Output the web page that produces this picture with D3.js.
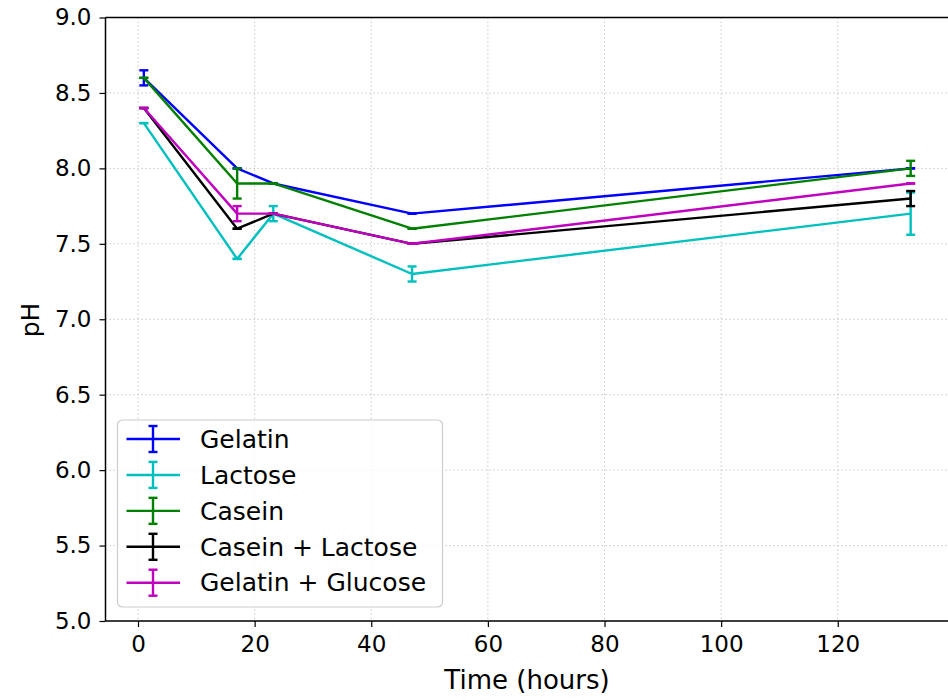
<!DOCTYPE html>
<html>
<head>
<meta charset="utf-8">
<script src="https://cdn.jsdelivr.net/npm/d3@7"></script>
<style>
  html, body { margin: 0; padding: 0; background: #ffffff; }
  svg { display: block; }
  text { font-family: "DejaVu Sans", sans-serif; fill: #000; }
</style>
</head>
<body>
<svg id="chart" width="948" height="700"></svg>
<script>
// ---- Data ----
const times = [1, 17, 23.2, 47, 132.5];
const seriesNames = ["Gelatin", "Lactose", "Casein", "Casein + Lactose", "Gelatin + Glucose"];
const seriesColors = ["#0000ff", "#00bfbf", "#008000", "#000000", "#bf00bf"];
const gelatin = [8.6, 8.0, 7.9, 7.7, 8.0];
const gelatinErr = [0.05, 0, 0, 0, 0];
const lactose = [8.3, 7.4, 7.7, 7.3, 7.7];
const lactoseErr = [0, 0, 0.05, 0.05, 0.14];
const casein = [8.6, 7.9, 7.9, 7.6, 8.0];
const caseinErr = [0, 0.1, 0, 0, 0.05];
const caseinLactose = [8.4, 7.6, 7.7, 7.5, 7.8];
const caseinLactoseErr = [0, 0, 0, 0, 0.05];
const gelatinGlucose = [8.4, 7.7, 7.7, 7.5, 7.9];
const gelatinGlucoseErr = [0, 0.05, 0, 0, 0];
const xTicks = [0, 20, 40, 60, 80, 100, 120];
const yTicks = [5.0, 5.5, 6.0, 6.5, 7.0, 7.5, 8.0, 8.5, 9.0];
const xLabel = "Time (hours)";
const yLabel = "pH";

const seriesValues = [gelatin, lactose, casein, caseinLactose, gelatinGlucose];
const seriesErrs = [gelatinErr, lactoseErr, caseinErr, caseinLactoseErr, gelatinGlucoseErr];

// ---- Layout ----
const plotLeft = 105.5, plotRight = 949, plotTop = 17.5, plotBottom = 621;
const xPad = (d3.max(times) - d3.min(times)) * 0.05;
const x = d3.scaleLinear().domain([d3.min(times) - xPad, d3.max(times) + xPad]).range([plotLeft, plotRight]);
const y = d3.scaleLinear().domain([5, 9]).range([plotBottom, plotTop]);

const svg = d3.select("#chart");
svg.append("rect").attr("width", 948).attr("height", 700).attr("fill", "#fff");

// grid
const grid = svg.append("g");
grid.selectAll("line.gx").data(xTicks).enter().append("line")
  .attr("x1", d => x(d)).attr("x2", d => x(d))
  .attr("y1", plotTop).attr("y2", plotBottom)
  .attr("stroke", "#c8c8c8").attr("stroke-width", 1).attr("stroke-dasharray", "1.5,2.5");
grid.selectAll("line.gy").data(yTicks).enter().append("line")
  .attr("x1", plotLeft).attr("x2", plotRight)
  .attr("y1", d => y(d)).attr("y2", d => y(d))
  .attr("stroke", "#c8c8c8").attr("stroke-width", 1).attr("stroke-dasharray", "1.5,2.5");

// series
const lw = 2.4;
const line = d3.line().x((d, i) => x(times[i])).y(d => y(d));
const capHalf = 4.5;
seriesValues.forEach((vals, si) => {
  const g = svg.append("g");
  const col = seriesColors[si];
  g.append("path").datum(vals).attr("d", line)
    .attr("fill", "none").attr("stroke", col).attr("stroke-width", lw)
    .attr("stroke-linejoin", "round");
  const errs = seriesErrs[si];
  vals.forEach((v, i) => {
    const cx = x(times[i]);
    const yt = y(v + errs[i]), yb = y(v - errs[i]);
    g.append("line").attr("x1", cx).attr("x2", cx).attr("y1", yt).attr("y2", yb)
      .attr("stroke", col).attr("stroke-width", lw);
    [yt, yb].forEach(yy => {
      g.append("line").attr("x1", cx - capHalf).attr("x2", cx + capHalf)
        .attr("y1", yy).attr("y2", yy).attr("stroke", col).attr("stroke-width", lw);
    });
  });
});

// axes
const xAxis = d3.axisBottom(x).tickValues(xTicks).tickFormat(d3.format("d")).tickSize(6).tickPadding(8);
const yAxis = d3.axisLeft(y).tickValues(yTicks).tickFormat(d3.format(".1f")).tickSize(6).tickPadding(8);
const gx = svg.append("g").attr("transform", `translate(0,${plotBottom})`).call(xAxis);
const gy = svg.append("g").attr("transform", `translate(${plotLeft},0)`).call(yAxis);
[gx, gy].forEach(g => {
  g.select(".domain").remove();
  g.selectAll(".tick line").attr("stroke", "#000").attr("stroke-width", 1.2);
  g.selectAll(".tick text").attr("font-family", "DejaVu Sans").attr("font-size", 23).attr("fill", "#1a1a1a");
});
gx.selectAll(".tick text").attr("dy", "0.75em");
// spines
svg.append("line").attr("x1", plotLeft).attr("x2", plotLeft).attr("y1", plotTop).attr("y2", plotBottom)
  .attr("stroke", "#000").attr("stroke-width", 1.5);
svg.append("line").attr("x1", plotLeft).attr("x2", plotRight).attr("y1", plotBottom).attr("y2", plotBottom)
  .attr("stroke", "#000").attr("stroke-width", 1.5);
svg.append("line").attr("x1", plotLeft).attr("x2", plotRight).attr("y1", plotTop).attr("y2", plotTop)
  .attr("stroke", "#000").attr("stroke-width", 1.5);
svg.append("line").attr("x1", plotRight).attr("x2", plotRight).attr("y1", plotTop).attr("y2", plotBottom)
  .attr("stroke", "#000").attr("stroke-width", 1.5);

// axis labels
svg.append("text").attr("x", 527).attr("y", 689)
  .attr("text-anchor", "middle").attr("font-size", 26).attr("fill", "#1a1a1a").text(xLabel);
svg.append("text").attr("transform", "translate(39,320) rotate(-90)")
  .attr("text-anchor", "middle").attr("font-size", 25).attr("fill", "#1a1a1a").text(yLabel);

// legend
const lg = svg.append("g");
lg.append("rect").attr("x", 117.5).attr("y", 420).attr("width", 325).attr("height", 187)
  .attr("rx", 5).attr("fill", "#fff").attr("fill-opacity", 0.8)
  .attr("stroke", "#cccccc").attr("stroke-width", 1.2);
const rowY = d3.scaleLinear().domain([0, 4]).range([439, 582.7]);
seriesNames.forEach((name, i) => {
  const yy = rowY(i), col = seriesColors[i];
  lg.append("line").attr("x1", 126.5).attr("x2", 180).attr("y1", yy).attr("y2", yy)
    .attr("stroke", col).attr("stroke-width", lw);
  lg.append("line").attr("x1", 153).attr("x2", 153).attr("y1", yy - 13).attr("y2", yy + 13)
    .attr("stroke", col).attr("stroke-width", lw);
  [yy - 13, yy + 13].forEach(cy => lg.append("line").attr("x1", 153 - capHalf).attr("x2", 153 + capHalf)
    .attr("y1", cy).attr("y2", cy).attr("stroke", col).attr("stroke-width", lw));
  lg.append("text").attr("x", 200).attr("y", yy).attr("dy", "0.35em")
    .attr("font-size", 25).attr("fill", "#1a1a1a").text(name);
});
</script>
</body>
</html>
